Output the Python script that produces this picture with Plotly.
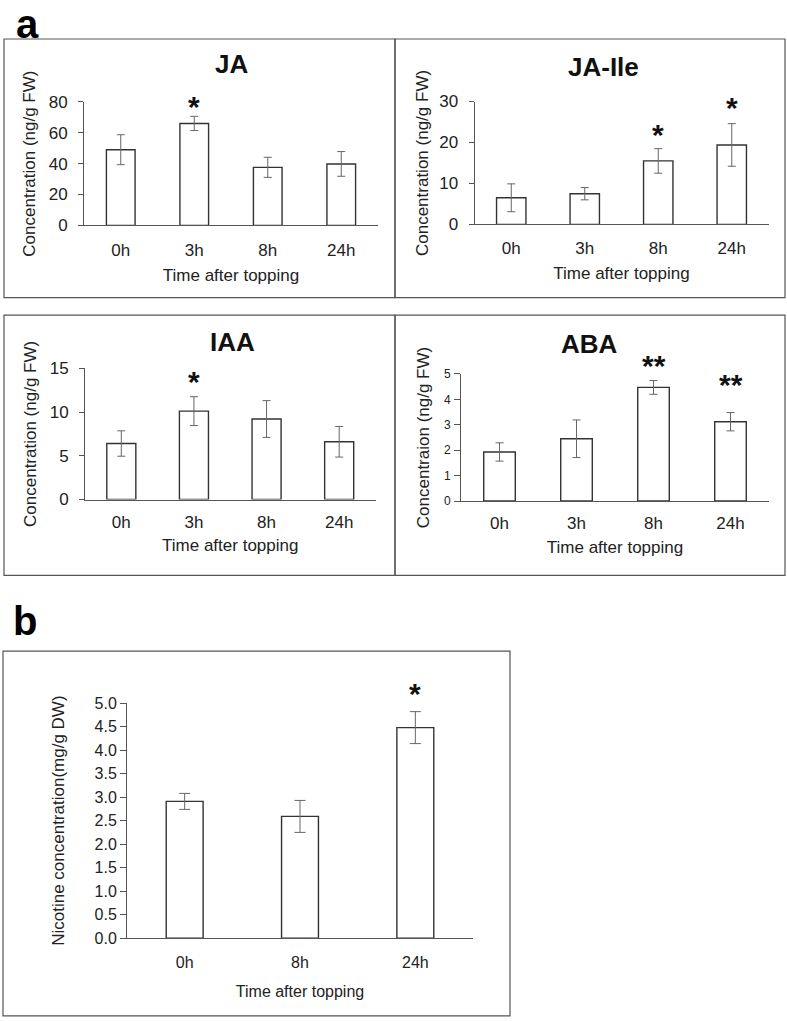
import plotly.graph_objects as go

W, H = 787, 1021

# hormone data (panel a)
times_a = ["0h", "3h", "8h", "24h"]
ja = [49, 66, 37.6, 39.8]
ja_err = [9.7, 4.6, 6.5, 8.0]
ja_sig = ["", "*", "", ""]
jaile = [6.5, 7.5, 15.5, 19.4]
jaile_err = [3.4, 1.5, 3.0, 5.2]
jaile_sig = ["", "", "*", "*"]
iaa = [6.4, 10.1, 9.2, 6.6]
iaa_err = [1.45, 1.65, 2.1, 1.75]
iaa_sig = ["", "*", "", ""]
aba = [1.93, 2.45, 4.47, 3.12]
aba_err = [0.36, 0.74, 0.27, 0.36]
aba_sig = ["", "", "**", "**"]

# nicotine data (panel b)
times_b = ["0h", "8h", "24h"]
nic = [2.91, 2.59, 4.48]
nic_err = [0.17, 0.34, 0.34]
nic_sig = ["", "", "*"]

FONT = "Liberation Sans, Arial, sans-serif"
AXC = "#555555"
TXT = "#222222"

# the snapshot squeezes the page a little vertically, so correct for it
Y_OFF, Y_SCALE = 7.88, 0.98457


def px_x(p):
    return p / W


def px_y(p):
    return 1 - ((p - Y_OFF) / Y_SCALE) / H


# per-panel look: x px, y px, ymax, dtick, y title, title pos, star gaps,
# bar width, ytick size, ticklen, label standoff, ytitle standoff, x title standoff
panels = [
    dict(name="JA", x=times_a, y=ja, err=ja_err, sig=ja_sig, xr=(84, 378), yr=(101, 225),
         ymax=80, dt=20, ytitle="Concentration (ng/g FW)", tpos=(232, 63.5),
         gaps=[0, 13, 0, 0], bw=0.39, tsz=17, tl=5, tls=7, yts=8, xts=10, xls=9, cap=4),
    dict(name="JA-Ile", x=times_a, y=jaile, err=jaile_err, sig=jaile_sig, xr=(474.5, 768.5),
         yr=(100.7, 224), ymax=30, dt=10, ytitle="Concentration (ng/g FW)", tpos=(603, 66.5),
         gaps=[0, 0, 18, 20], bw=0.4, tsz=17, tl=5, tls=7, yts=6, xts=10, xls=8, cap=4),
    dict(name="IAA", x=times_a, y=iaa, err=iaa_err, sig=iaa_sig, xr=(85, 375.5),
         yr=(368.3, 500), ymax=15, dt=5, ytitle="Concentration (ng/g FW)", tpos=(232.5, 342),
         gaps=[0, 19, 0, 0], bw=0.4, tsz=17, tl=5, tls=7, yts=8, xts=8, xls=7, cap=4),
    dict(name="ABA", x=times_a, y=aba, err=aba_err, sig=aba_sig, xr=(461, 769),
         yr=(374, 501.5), ymax=5, dt=1, ytitle="Concentraion (ng/g FW)", tpos=(589.5, 344),
         gaps=[0, 0, 19, 32], bw=0.41, tsz=12, tl=6, tls=1, yts=9, xts=8, xls=7, cap=4),
    dict(name="", x=times_b, y=nic, err=nic_err, sig=nic_sig, xr=(127, 473),
         yr=(704.3, 940), ymax=5, dt=0.5, ytitle="Nicotine concentration(mg/g DW)", tpos=None,
         gaps=[0, 0, 22, 0], bw=0.32, tsz=16, tl=6, tls=0, yts=25, xts=15, xls=10, cap=5.5),
]

fig = go.Figure()
annotations = []
layout = {}

for i, p in enumerate(panels):
    k = "" if i == 0 else str(i + 1)
    small = i == 4
    fig.add_trace(go.Bar(
        x=p["x"], y=p["y"],
        error_y=dict(type="data", array=p["err"], color="#666666", thickness=1, width=p["cap"]),
        marker=dict(color="white", line=dict(color="#333333", width=1.4)),
        width=p["bw"],
        xaxis="x" + k, yaxis="y" + k, showlegend=False,
    ))
    xfs = 16 if small else 17
    layout["xaxis" + k] = dict(
        domain=[px_x(p["xr"][0]), px_x(p["xr"][1])], anchor="y" + k,
        showline=True, linecolor=AXC, linewidth=1, ticks="",
        ticklabelstandoff=p["xls"],
        tickfont=dict(size=xfs, color=TXT),
        title=dict(text="Time after topping", font=dict(size=xfs, color=TXT), standoff=p["xts"]),
        showgrid=False, fixedrange=True,
    )
    layout["yaxis" + k] = dict(
        domain=[px_y(p["yr"][1]), px_y(p["yr"][0])], anchor="x" + k,
        range=[0, p["ymax"]], dtick=p["dt"], showline=True, linecolor=AXC, linewidth=1,
        ticks="outside", ticklen=p["tl"], tickcolor=AXC, ticklabelstandoff=p["tls"],
        tickformat=".1f" if small else "",
        tickfont=dict(size=p["tsz"], color=TXT),
        title=dict(text=p["ytitle"], font=dict(size=17, color=TXT), standoff=p["yts"]),
        showgrid=False, zeroline=False, fixedrange=True,
    )
    if p["name"]:
        annotations.append(dict(
            text="<b>%s</b>" % p["name"], x=px_x(p["tpos"][0]), y=px_y(p["tpos"][1]),
            xref="paper", yref="paper", xanchor="center", yanchor="middle",
            showarrow=False, font=dict(size=26, color="#111", family=FONT),
        ))
    for xv, yv, ev, s, g in zip(p["x"], p["y"], p["err"], p["sig"], p["gaps"]):
        if s:
            annotations.append(dict(
                text="<b>%s</b>" % s, x=xv, y=yv + ev, xref="x" + k, yref="y" + k,
                yanchor="bottom", yshift=g - 22, showarrow=False,
                font=dict(size=30, color="#111", family=FONT),
            ))

# panel letters
annotations.append(dict(text="<b>a</b>", x=px_x(14), y=px_y(23), xref="paper", yref="paper",
                        xanchor="left", yanchor="middle", showarrow=False,
                        font=dict(size=40, color="#000", family=FONT)))
annotations.append(dict(text="<b>b</b>", x=px_x(11), y=px_y(622), xref="paper", yref="paper",
                        xanchor="left", yanchor="middle", showarrow=False,
                        font=dict(size=40, color="#000", family=FONT)))

# frame boxes
boxes = [(4, 38, 395, 297.5), (395, 38, 785, 297.5), (4, 315, 395, 576), (395, 315, 785, 576),
         (3, 652, 510, 1018)]
shapes = [dict(type="rect", xref="paper", yref="paper",
               x0=px_x(b[0]), x1=px_x(b[2]), y0=px_y(b[3]), y1=px_y(b[1]),
               line=dict(color="#555555", width=1.2)) for b in boxes]

fig.update_layout(
    width=W, height=H, margin=dict(l=0, r=0, t=0, b=0),
    paper_bgcolor="white", plot_bgcolor="white",
    font=dict(family=FONT, color=TXT),
    annotations=annotations, shapes=shapes,
    **layout,
)

fig.write_html("out.html", config={"displayModeBar": False},
               post_script="document.body.style.margin='0px';")
